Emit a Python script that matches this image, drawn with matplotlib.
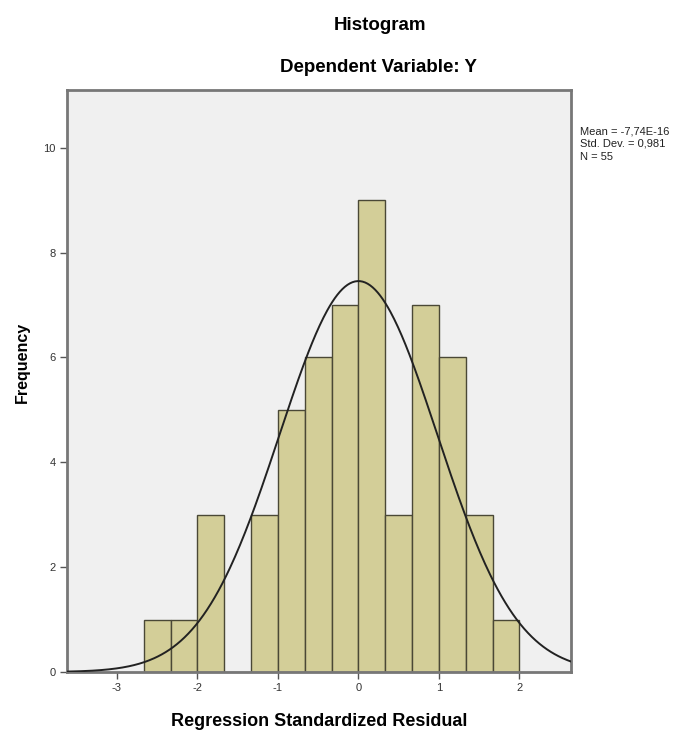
import numpy as np
import matplotlib
matplotlib.use("Agg")
import matplotlib.pyplot as plt

# ---- data ----
bin_edges = [-8/3, -7/3, -2, -5/3, -4/3, -1, -2/3, -1/3, 0, 1/3, 2/3, 1, 4/3, 5/3, 2]
counts = [1, 1, 3, 0, 3, 5, 6, 7, 9, 3, 7, 6, 3, 1]
mean_val = -7.74e-16
std_val = 0.981
n_val = 55
x_ticks = [-3, -2, -1, 0, 1, 2]
y_ticks = [0, 2, 4, 6, 8, 10]
stats_lines = ["Mean = -7,74E-16", "Std. Dev. = 0,981", "N = 55"]

narrow = ['Liberation Sans Narrow', 'Liberation Sans', 'DejaVu Sans']
sans = ['Liberation Sans', 'DejaVu Sans']

fig = plt.figure(figsize=(6.85, 7.42), dpi=100)
ax = fig.add_axes([67/685, 70/742, (571-67)/685, (672-90)/742])
ax.set_facecolor('#f0f0f0')

edges = np.array(bin_edges)
ax.bar(edges[:-1], counts, width=np.diff(edges), align='edge',
       color='#d3ce98', edgecolor='#4a4836', linewidth=1.0, zorder=2)

xlim = (-3.62, 2.64)
xs = np.linspace(xlim[0], xlim[1], 400)
bw = edges[1] - edges[0]
pdf = n_val * bw / (std_val * np.sqrt(2 * np.pi)) * np.exp(-0.5 * ((xs - mean_val) / std_val) ** 2)
ax.plot(xs, pdf, color='#222222', linewidth=1.4, zorder=3)

ax.set_xlim(*xlim)
ax.set_ylim(0, 11.1)
ax.set_xticks(x_ticks)
ax.set_yticks(y_ticks)
ax.set_xticklabels([str(t) for t in x_ticks], family=narrow, fontsize=8, color='#333333')
ax.set_yticklabels([str(t) for t in y_ticks], family=narrow, fontsize=8, color='#333333')
ax.tick_params(direction='out', length=5, width=1, color='#555555', pad=3)

for sp in ax.spines.values():
    sp.set_color('#777777')
    sp.set_linewidth(2)

ax.set_xlabel('Regression Standardized Residual', family=sans, fontsize=13,
              fontweight='bold', labelpad=14)
fig.text(22/685, 1 - 362/742, 'Frequency', rotation=90, ha='center', va='center',
         family=sans, fontsize=11.5, fontweight='bold')

fig.text(380/685, 1 - 25/742, 'Histogram', ha='center', va='center',
         family=sans, fontsize=13.5, fontweight='bold')
fig.text(378/685, 1 - 68/742, 'Dependent Variable: Y', ha='center', va='center',
         family=sans, fontsize=13.5, fontweight='bold')

for i, line in enumerate(stats_lines):
    fig.text(580/685, 1 - (131 + 13 * i)/742, line, ha='left', va='center',
             family=narrow, fontsize=8, color='#222222')

fig.savefig('out.png', dpi=100, facecolor='white')
